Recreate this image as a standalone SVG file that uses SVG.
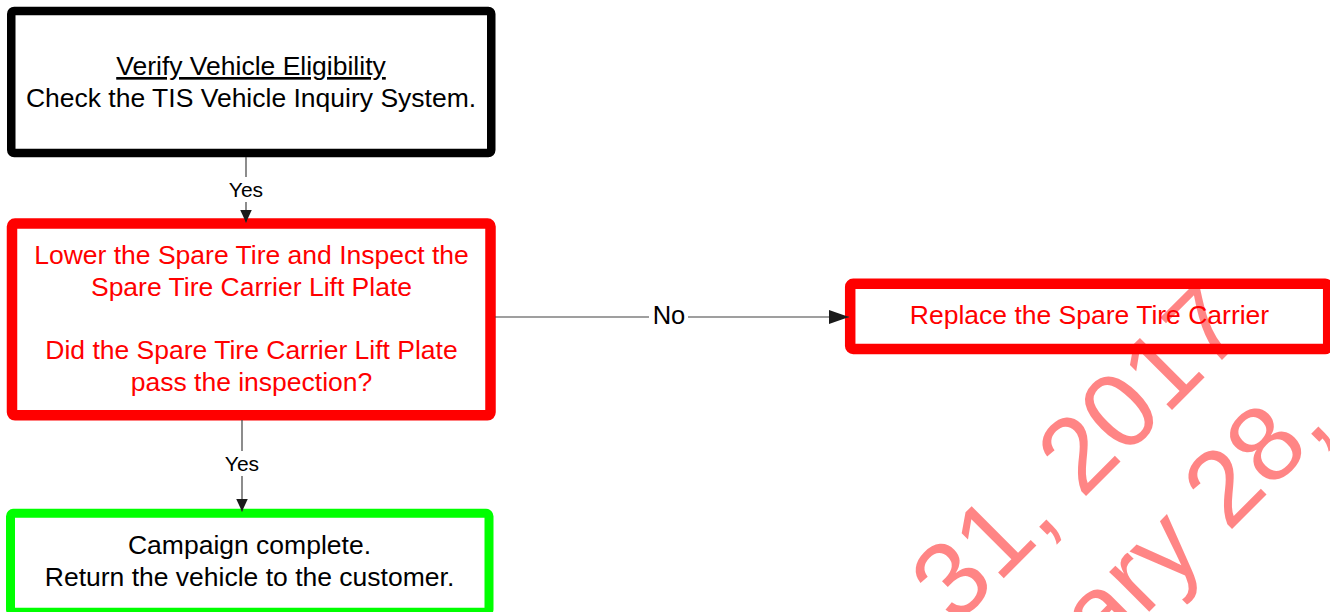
<svg xmlns="http://www.w3.org/2000/svg" width="1330" height="612" viewBox="0 0 1330 612">
<style>
text{font-family:"Liberation Sans",Arial,sans-serif;}
.box{fill:#ffffff;}
.t{font-size:26.5px;text-anchor:middle;fill:#000000;}
.tr{font-size:26.5px;text-anchor:middle;fill:#ff0000;}
.lbl{font-size:21px;text-anchor:middle;fill:#000000;}
.conn{fill:none;stroke:#404040;stroke-width:1.2;}
.wm{font-size:107px;fill:#ff0000;fill-opacity:0.48;}
</style>
<defs>
<marker id="arrowS" markerUnits="userSpaceOnUse" markerWidth="13" markerHeight="12" refX="13" refY="6" orient="auto">
<path d="M0,0 L13,6 L0,12 z" fill="#1a1a1a"/>
</marker>
<marker id="arrowL" markerUnits="userSpaceOnUse" markerWidth="20" markerHeight="14" refX="20" refY="7" orient="auto">
<path d="M0,0 L20,7 L0,14 z" fill="#1a1a1a"/>
</marker>
</defs>
<rect width="1330" height="612" fill="#ffffff"/>
<g id="verify">
<rect class="box" x="11.25" y="11" width="480" height="142" rx="3" stroke="#000000" stroke-width="8.5"/>
<text class="t" x="251" y="75" text-decoration="underline">Verify Vehicle Eligibility</text>
<text class="t" x="251" y="107">Check the TIS Vehicle Inquiry System.</text>
</g>
<g id="inspect">
<rect class="box" x="12" y="223.6" width="478.5" height="191.7" rx="3" stroke="#ff0000" stroke-width="10.5"/>
<text class="tr" x="251.5" y="264">Lower the Spare Tire and Inspect the</text>
<text class="tr" x="251.5" y="296">Spare Tire Carrier Lift Plate</text>
<text class="tr" x="251.5" y="359">Did the Spare Tire Carrier Lift Plate</text>
<text class="tr" x="251.5" y="391">pass the inspection?</text>
</g>
<g id="replace">
<rect class="box" x="850.2" y="283.8" width="478" height="65.2" rx="3" stroke="#ff0000" stroke-width="10.5"/>
<text class="tr" x="1089.5" y="324">Replace the Spare Tire Carrier</text>
</g>
<g id="complete">
<rect class="box" x="10.5" y="513.3" width="478.5" height="99" rx="3" stroke="#00ff00" stroke-width="9"/>
<text class="t" x="249.5" y="554">Campaign complete.</text>
<text class="t" x="249.5" y="585.5">Return the vehicle to the customer.</text>
</g>
<g id="connectors">
<path class="conn" d="M246,157 V222.5" marker-end="url(#arrowS)"/>
<rect x="228" y="177" width="36" height="25" fill="#ffffff"/>
<text class="lbl" x="246" y="197">Yes</text>
<path class="conn" d="M242,420 V511.5" marker-end="url(#arrowS)"/>
<rect x="224" y="451" width="36" height="25" fill="#ffffff"/>
<text class="lbl" x="242" y="470.7">Yes</text>
<path class="conn" d="M495,317 H849" marker-end="url(#arrowL)"/>
<rect x="649" y="303" width="39" height="28" fill="#ffffff"/>
<text class="t" x="669" y="324.3" style="font-size:25.5px">No</text>
</g>
<g id="watermark">
<text class="wm" transform="translate(956,626) rotate(-45)">31, 2017</text>
<text class="wm" transform="translate(1102,659) rotate(-45)">ary 28,</text>
</g>
</svg>
